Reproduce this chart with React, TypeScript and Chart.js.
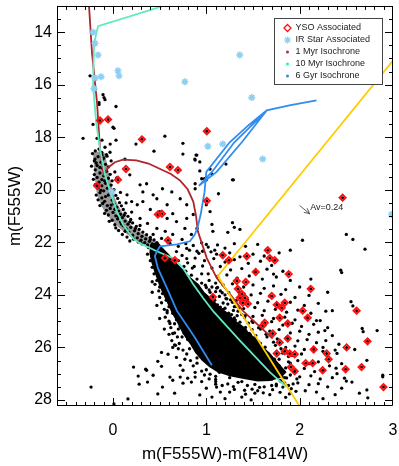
import React, { useEffect, useRef } from "react";
import { Chart, registerables } from "chart.js";
Chart.register(...registerables);

type P = [number, number];

const xTickValues = [0, 1, 2, 3];
const yTickValues = [14, 16, 18, 20, 22, 24, 26, 28];
const xMin = -0.6;
const xMax = 3.0;
const yMin = 13.0;
const yMax = 28.23;

const xTitle = "m(F555W)-m(F814W)";
const yTitle = "m(F555W)";

const isochrone1Myr: P[] = [
  [-0.265, 12.9], [-0.257, 13.0], [-0.225, 14.79], [-0.171, 16.68], [-0.139, 18.45],
  [-0.1, 19.4], [-0.05, 19.15], [0.02, 18.95], [0.107, 18.85], [0.25, 18.88],
  [0.38, 19.0], [0.5, 19.2], [0.62, 19.4], [0.72, 19.65], [0.8, 19.98],
  [0.86, 20.45], [0.89, 21.0], [0.909, 21.58], [1.005, 22.6], [1.112, 23.36],
  [1.251, 23.96], [1.39, 24.6], [1.551, 25.13], [1.711, 25.66],
];

const isochrone10Myr: P[] = [
  [0.6, 12.9], [0.524, 13.02], [-0.16, 13.77], [-0.203, 14.42], [-0.214, 16.04],
  [-0.18, 17.43], [-0.139, 18.45], [-0.086, 19.43], [-0.03, 20.08], [0.043, 20.83],
  [0.107, 21.32], [0.214, 21.85], [0.289, 22.04], [0.47, 22.34], [0.64, 22.6],
  [0.75, 22.98], [0.856, 23.58], [0.963, 24.11], [1.08, 24.65], [1.36, 25.74],
  [1.68, 26.94], [1.86, 27.51],
];

const isochrone6Gyr: P[] = [
  [1.059, 26.68], [0.877, 25.62], [0.684, 24.6], [0.578, 23.74], [0.481, 22.98],
  [0.449, 22.53], [0.471, 22.34], [0.503, 22.15], [0.684, 22.08], [0.824, 21.96],
  [0.877, 21.7], [0.909, 21.4], [0.941, 20.91], [0.963, 20.45], [0.98, 20.1],
  [1.0, 19.32], [1.25, 18.19], [1.45, 17.55], [1.647, 16.98], [1.89, 16.79],
  [2.18, 16.6], [1.89, 16.79], [1.647, 16.98], [1.5, 17.5], [1.3, 18.19],
  [1.06, 19.32], [0.92, 19.85], [1.11, 19.32], [1.38, 18.19], [1.647, 16.98],
];

const completenessLine: P[] = [[3.0, 15.08], [1.123, 23.28], [2.01, 28.3]];

// solid (saturated) main-sequence core
const coreOutline: P[] = [
  [0.396, 22.08], [0.39, 22.4], [0.405, 22.7], [0.44, 23.1], [0.47, 23.4], [0.5, 23.7],
  [0.54, 24.0], [0.585, 24.35], [0.63, 24.7], [0.68, 25.0], [0.72, 25.3], [0.77, 25.6],
  [0.83, 25.9], [0.88, 26.2], [0.95, 26.5], [1.03, 26.75], [1.12, 26.95], [1.25, 27.1],
  [1.4, 27.2], [1.55, 27.3], [1.68, 27.28], [1.8, 27.15], [1.86, 26.95], [1.8, 26.7],
  [1.74, 26.45], [1.68, 26.2], [1.6, 25.95], [1.55, 25.7], [1.46, 25.45], [1.4, 25.2],
  [1.3, 24.95], [1.24, 24.7], [1.14, 24.45], [1.08, 24.2], [0.98, 23.9], [0.92, 23.6],
  [0.82, 23.3], [0.74, 23.0], [0.66, 22.7], [0.6, 22.45], [0.53, 22.2], [0.48, 21.98],
  [0.396, 22.08],
];

// crowded pre-main-sequence ridge
const ridgeOutline: P[] = [
  [-0.214, 18.57], [-0.2, 19.32], [-0.17, 20.19], [-0.107, 20.72], [-0.032, 21.09],
  [0.075, 21.47], [0.214, 21.85], [0.321, 22.08], [0.45, 22.15], [0.47, 22.02],
  [0.364, 21.75], [0.214, 21.4], [0.107, 20.9], [0.02, 20.3], [-0.03, 19.6],
  [-0.07, 18.9], [-0.1, 18.57], [-0.214, 18.57],
];

const starsUpper: P[] = [
  [-0.246, 15.66], [-0.193, 15.81], [-0.107, 16.38], [-0.096, 16.49], [-0.086, 16.57],
  [-0.15, 16.68], [-0.15, 16.75], [0.032, 16.83], [-0.214, 17.51], [0.0, 17.62],
  [0.011, 17.66], [-0.321, 18.04], [-0.171, 18.04], [-0.118, 18.11], [0.032, 18.11],
  [0.246, 18.26], [0.556, 17.96], [0.749, 18.23], [0.439, 18.53], [0.749, 18.64],
  [0.877, 18.83], [0.898, 18.68], [-0.15, 18.45], [-0.086, 18.38], [-0.118, 18.68],
  [-0.064, 18.72], [-0.193, 18.83], [-0.107, 18.83], [0.128, 18.83], [-0.032, 18.57],
  [-0.03, 18.26], [0.89, 18.68], [0.88, 18.87], [0.93, 18.94], [0.93, 19.28],
  [1.04, 19.21], [1.06, 19.4], [0.98, 19.58], [1.0, 19.62], [0.88, 19.77],
  [0.95, 19.58], [0.88, 19.96], [1.21, 19.02], [1.29, 19.62],
];

const starsRidge: P[] = [
  [-0.19, 18.52], [-0.12, 18.58], [-0.07, 18.66], [-0.16, 18.74], [-0.1, 18.79],
  [-0.2, 18.9], [-0.13, 18.95], [-0.08, 19.03], [-0.17, 19.08], [-0.05, 19.13],
  [-0.11, 19.19], [-0.19, 19.24], [-0.07, 19.29], [-0.14, 19.36], [-0.03, 19.41],
  [-0.1, 19.47], [-0.17, 19.53], [-0.05, 19.56], [-0.12, 19.61], [-0.01, 19.66],
  [-0.15, 19.71], [-0.08, 19.75], [-0.02, 19.82], [-0.12, 19.85], [-0.16, 19.93],
  [-0.06, 19.94], [0.01, 19.99], [-0.1, 20.04], [-0.14, 20.11], [-0.03, 20.13],
  [0.03, 20.21], [-0.08, 20.26], [-0.12, 20.31], [0.05, 20.33], [-0.01, 20.39],
  [-0.09, 20.44], [0.07, 20.49], [0.01, 20.53], [-0.06, 20.6], [0.09, 20.61],
  [0.04, 20.66], [-0.03, 20.71], [0.11, 20.75], [0.06, 20.81], [0.0, 20.86],
  [0.13, 20.89], [0.08, 20.93], [0.03, 20.99], [0.16, 21.01], [0.1, 21.06],
  [0.05, 21.11], [0.19, 21.13], [0.13, 21.19], [0.08, 21.23], [0.21, 21.26],
  [0.16, 21.31], [0.11, 21.37], [0.25, 21.39], [0.19, 21.43], [0.14, 21.49],
  [0.28, 21.51], [0.23, 21.56], [0.17, 21.61], [0.32, 21.61], [0.27, 21.67],
  [0.21, 21.73], [0.36, 21.71], [0.31, 21.77], [0.26, 21.83], [0.4, 21.81],
  [0.35, 21.87], [0.3, 21.92], [0.44, 21.91], [0.39, 21.96], [0.34, 22.01],
  [0.47, 22.01], [0.42, 22.06], [-0.22, 18.62], [-0.23, 19.1], [-0.21, 19.6],
  [-0.18, 20.2], [-0.14, 20.6], [-0.09, 20.9], [-0.04, 21.2], [0.03, 21.45],
  [0.1, 21.7], [0.18, 21.95], [-0.02, 18.9], [0.04, 19.55], [0.08, 20.1],
  [0.14, 20.5], [0.2, 20.85], [-0.18, 18.98], [-0.14, 19.15], [-0.2, 19.42],
  [-0.09, 19.66], [-0.19, 19.8], [-0.13, 20.02], [-0.05, 20.2], [-0.16, 20.38],
  [-0.11, 20.52], [-0.02, 20.58], [-0.07, 20.78], [0.02, 20.74], [-0.05, 20.96],
  [0.06, 21.02], [-0.01, 21.16], [0.09, 21.3], [0.02, 21.33], [0.13, 21.58],
  [0.06, 21.55], [0.15, 21.8], [0.22, 21.88], [0.27, 21.99], [0.37, 22.1],
  [0.31, 22.06], [0.24, 21.47], [0.29, 21.36], [0.18, 21.22], [0.12, 20.97],
];

const starsMid: P[] = [
  [0.02, 19.32], [0.18, 19.43], [0.29, 19.81], [0.36, 19.77], [0.43, 20.19],
  [0.53, 19.96], [0.63, 20.08], [0.72, 20.34], [0.79, 20.57], [0.86, 20.94],
  [0.26, 20.57], [0.32, 20.45], [0.4, 20.75], [0.5, 20.83], [0.58, 21.09],
  [0.68, 21.21], [0.77, 21.47], [0.84, 21.7], [0.29, 21.09], [0.37, 21.28],
  [0.47, 21.47], [0.56, 21.58], [0.64, 21.7], [0.74, 21.89], [0.43, 21.7],
  [0.52, 21.85], [0.61, 22.04], [0.7, 22.15], [0.79, 22.23], [0.9, 22.34],
  [0.32, 20.08], [0.47, 20.34], [0.58, 20.57], [0.15, 20.19], [0.2, 20.45],
  [0.79, 21.09], [0.9, 21.47], [0.64, 20.91], [0.4, 21.89], [1.13, 20.15],
  [1.28, 19.62], [1.3, 21.43], [1.28, 21.25], [1.36, 21.51], [1.23, 21.62],
  [1.0, 20.57], [1.04, 20.83], [1.06, 21.32], [1.07, 21.58], [1.09, 22.3],
  [1.11, 22.45], [1.0, 22.08], [0.96, 22.34],
];

const starsNearCore: P[] = [
  [0.68, 22.35], [0.74, 22.5], [0.7, 22.7], [0.8, 22.78], [0.76, 22.92], [0.85, 22.98],
  [0.78, 23.1], [0.84, 23.25], [0.9, 23.4], [0.82, 23.45], [0.95, 23.55], [0.88, 23.65],
  [1.0, 23.72], [0.93, 23.82], [1.04, 23.9], [0.98, 24.0], [1.0, 24.15], [1.06, 24.25],
  [0.98, 24.3], [1.12, 24.38], [1.05, 24.48], [1.18, 24.55], [1.1, 24.62], [1.24, 24.7],
  [1.16, 24.8], [1.3, 24.88], [1.2, 24.95], [1.22, 25.05], [1.28, 25.15], [1.35, 25.22],
  [1.26, 25.3], [1.42, 25.35], [1.33, 25.45], [1.47, 25.5], [1.4, 25.6], [1.52, 25.68],
  [1.44, 25.75], [1.58, 25.85], [1.5, 25.95], [1.55, 26.1], [1.62, 26.2], [1.58, 26.35],
  [1.68, 26.42], [1.64, 26.58], [1.74, 26.65], [1.7, 26.78], [1.8, 26.9], [1.76, 27.05],
  [1.84, 27.15], [1.8, 27.3], [1.7, 27.45], [1.88, 27.45],
];

const starsBand: P[] = [
  [0.99, 23.63], [1.06, 23.7], [1.11, 23.74], [1.03, 23.81], [1.1, 23.88], [1.17, 23.92],
  [1.07, 24.03], [1.14, 24.06], [1.21, 24.14], [1.26, 24.19], [1.09, 24.2], [1.18, 24.31],
  [1.23, 24.35], [1.32, 24.44], [1.15, 24.47], [1.2, 24.51], [1.29, 24.59], [1.34, 24.62],
  [1.18, 24.69], [1.27, 24.75], [1.33, 24.79], [1.41, 24.87], [1.24, 24.91], [1.31, 24.96],
  [1.36, 25.04], [1.45, 25.08], [1.28, 25.13], [1.33, 25.2], [1.42, 25.24], [1.49, 25.32],
  [1.3, 25.37], [1.39, 25.43], [1.46, 25.47], [1.53, 25.55], [1.37, 25.6], [1.42, 25.67],
  [1.51, 25.71], [1.56, 25.79], [1.4, 25.83], [1.49, 25.87], [1.54, 25.95], [1.63, 25.99],
  [1.47, 26.05], [1.52, 26.11], [1.61, 26.16], [1.66, 26.24], [1.5, 26.28], [1.59, 26.32],
  [1.64, 26.4], [1.73, 26.45], [1.57, 26.51], [1.62, 26.57], [1.71, 26.61], [1.78, 26.7],
  [1.6, 26.73], [1.69, 26.79], [1.74, 26.87], [1.83, 26.92], [1.65, 26.97], [1.72, 27.02],
  [1.81, 27.11], [1.86, 27.16], [1.7, 27.21], [1.79, 27.26], [1.84, 27.35], [1.93, 27.39],
  [1.75, 27.46], [1.82, 27.51], [1.91, 27.57], [1.96, 27.67], [1.79, 27.71], [1.89, 27.77],
  [1.71, 27.61], [1.61, 27.73], [1.49, 27.59], [1.41, 27.63], [1.29, 27.49], [1.23, 27.39],
  [1.34, 27.33], [1.52, 27.41], [1.57, 27.52], [1.44, 27.45], [1.1, 27.22], [1.04, 27.02],
  [1.9, 26.6], [1.94, 26.95], [1.97, 27.2], [1.88, 26.35], [1.8, 26.05], [1.72, 25.8],
  [1.64, 25.5], [1.56, 25.25], [1.49, 25.0], [1.42, 24.78], [1.35, 24.5], [1.28, 24.28],
  [1.2, 24.0], [1.12, 23.72], [1.03, 23.45], [0.95, 23.2], [0.87, 22.92], [0.79, 22.62],
];

const starsRightDense: P[] = [
  [0.78, 22.05], [0.86, 22.12], [0.95, 22.02], [1.02, 22.18], [1.12, 22.1], [1.2, 22.22],
  [1.3, 22.05], [1.42, 22.15], [1.55, 22.08], [0.82, 22.3], [0.92, 22.42], [1.05, 22.36],
  [1.16, 22.48], [1.25, 22.4], [1.36, 22.55], [1.5, 22.45], [1.62, 22.52], [1.78, 22.4],
  [0.88, 22.6], [0.98, 22.7], [1.08, 22.62], [1.2, 22.75], [1.3, 22.66], [1.45, 22.8],
  [1.58, 22.72], [1.7, 22.88], [0.96, 22.9], [1.06, 22.98], [1.15, 22.92], [1.26, 23.05],
  [1.38, 23.0], [1.52, 23.12], [1.65, 23.02], [1.82, 23.1], [1.02, 23.2], [1.12, 23.3],
  [1.22, 23.24], [1.33, 23.36], [1.46, 23.28], [1.6, 23.4], [1.75, 23.32], [1.9, 23.45],
  [1.1, 23.55], [1.18, 23.62], [1.28, 23.58], [1.4, 23.7], [1.5, 23.62], [1.62, 23.75],
  [1.72, 23.66], [1.85, 23.8], [2.0, 23.7], [1.15, 23.85], [1.24, 23.92], [1.35, 23.88],
  [1.48, 24.0], [1.58, 23.94], [1.68, 24.05], [1.8, 23.98], [1.95, 24.1], [2.1, 24.02],
  [1.22, 24.15], [1.32, 24.22], [1.44, 24.18], [1.55, 24.3], [1.66, 24.24], [1.76, 24.35],
  [1.9, 24.28], [2.05, 24.4], [2.2, 24.32], [1.3, 24.45], [1.4, 24.52], [1.52, 24.48],
  [1.62, 24.6], [1.74, 24.55], [1.86, 24.66], [1.98, 24.58], [2.12, 24.7], [2.28, 24.62],
  [1.38, 24.75], [1.5, 24.82], [1.6, 24.78], [1.72, 24.9], [1.84, 24.85], [1.95, 24.95],
  [2.08, 24.88], [2.22, 24.98], [1.5, 25.05], [1.62, 25.12], [1.7, 25.02], [1.82, 25.15],
  [1.92, 25.08], [2.02, 25.2], [2.15, 25.12], [2.3, 25.25], [1.58, 25.3], [1.68, 25.38],
  [1.78, 25.32], [1.9, 25.45], [2.0, 25.38], [2.1, 25.5], [2.2, 25.42], [2.35, 25.55],
  [1.65, 25.6], [1.76, 25.68], [1.86, 25.62], [1.98, 25.75], [2.08, 25.7], [2.18, 25.82],
  [2.28, 25.74], [2.42, 25.88], [1.74, 25.92], [1.85, 26.0], [1.95, 25.95], [2.05, 26.08],
  [2.15, 26.02], [2.25, 26.15], [2.38, 26.1], [1.82, 26.22], [1.92, 26.3], [2.02, 26.25],
  [1.78, 26.45], [1.88, 26.55], [1.98, 26.5], [2.1, 26.62], [2.2, 26.55], [2.32, 26.7],
  [2.45, 26.62], [1.85, 26.78], [1.95, 26.85], [2.05, 26.8], [2.16, 26.92], [2.26, 26.88],
  [2.4, 27.0], [1.9, 27.05], [2.0, 27.12], [2.12, 27.08], [2.22, 27.2], [2.35, 27.15],
  [2.5, 27.28], [1.98, 27.35], [2.1, 27.42], [2.2, 27.38], [2.3, 27.5], [2.45, 27.55],
  [2.06, 27.65], [2.18, 27.7], [2.38, 27.8], [1.85, 27.9], [2.25, 27.95], [1.0, 27.55],
  [1.15, 27.7], [1.3, 27.6], [1.42, 27.78], [1.55, 27.65], [1.68, 27.8], [1.2, 27.95],
  [1.48, 28.0], [1.62, 27.5], [1.75, 27.4], [0.95, 27.3], [1.1, 27.4],
];

const starsRightSparse: P[] = [
  [2.03, 21.92], [1.9, 22.3], [2.5, 21.7], [2.57, 21.89], [2.7, 22.26], [2.44, 23.06],
  [2.45, 23.15], [1.72, 23.21], [2.55, 24.26], [2.57, 24.42], [2.67, 25.28], [2.68, 25.4],
  [2.83, 25.36], [2.59, 26.08], [2.72, 26.49], [2.89, 27.06], [2.89, 27.12], [2.4, 26.23],
  [2.39, 26.79], [2.48, 27.17], [2.56, 27.32], [2.64, 27.74], [2.72, 27.62], [2.73, 27.92],
  [2.27, 25.36], [2.18, 24.98], [2.25, 26.0], [2.12, 23.4], [2.3, 23.9], [2.35, 24.6],
];

const starsLowerLeft: P[] = [
  [-0.235, 27.51], [0.01, 28.15], [0.16, 27.96], [0.22, 26.75], [0.27, 27.09], [0.28, 27.4],
  [0.35, 26.83], [0.37, 27.32], [0.43, 27.06], [0.48, 26.53], [0.52, 26.19], [0.53, 27.51],
  [0.48, 27.77], [0.52, 26.72], [0.59, 26.26], [0.61, 27.13], [0.66, 27.74], [0.67, 25.92],
  [0.72, 27.13], [0.58, 24.68], [0.61, 25.09], [0.64, 25.47], [0.36, 26.87], [0.64, 27.25],
  [0.75, 27.36], [0.84, 27.32], [0.93, 27.81], [1.06, 27.89], [1.25, 27.7], [1.38, 27.89],
  [1.52, 27.74], [1.11, 27.51], [0.68, 26.38], [0.72, 26.68], [0.75, 26.87], [0.8, 27.17],
  [0.88, 27.13], [0.63, 25.74], [0.64, 26.0], [0.55, 25.3], [0.5, 24.9], [0.47, 24.4],
  [0.42, 23.9], [0.7, 26.05],
];

const starsCoreEdge: P[] = [
  [0.38, 22.2], [0.37, 22.45], [0.4, 22.7], [0.42, 22.95], [0.44, 23.2], [0.47, 23.45],
  [0.5, 23.7], [0.53, 23.95], [0.57, 24.2], [0.6, 24.45], [0.64, 24.7], [0.68, 24.95],
  [0.72, 25.2], [0.76, 25.45], [0.8, 25.7], [0.86, 25.95], [0.92, 26.2], [0.98, 26.45],
  [1.05, 26.7], [1.14, 26.95], [1.25, 27.15], [1.38, 27.3], [0.42, 23.5], [0.5, 24.1],
  [0.58, 24.6], [0.66, 25.1], [0.74, 25.6], [0.82, 26.05], [0.9, 26.4], [1.0, 26.85],
  [1.1, 27.1], [0.45, 23.6], [0.49, 23.85], [0.52, 24.3], [0.55, 24.55], [0.56, 24.85],
  [0.6, 25.0], [0.62, 25.25], [0.66, 25.45], [0.69, 25.6], [0.71, 25.85], [0.75, 26.1],
  [0.79, 26.25], [0.83, 26.5], [0.86, 26.7], [0.9, 26.6], [0.95, 26.9], [0.98, 27.05],
  [1.03, 27.2], [1.1, 27.3], [1.17, 27.45], [0.6, 25.5], [0.66, 25.9], [0.77, 26.45],
  [0.88, 26.95], [0.7, 25.3],
];

const ysoStars: P[] = [
  [-0.139, 17.36], [-0.053, 17.32], [0.31, 18.08], [1.005, 17.77], [-0.171, 19.85],
  [0.139, 19.21], [0.053, 19.62], [0.481, 20.94], [0.524, 20.91], [0.588, 21.92],
  [0.556, 22.6], [0.663, 22.68], [0.61, 19.13], [0.695, 19.25], [1.005, 20.42],
  [2.46, 20.3], [1.658, 22.3], [1.679, 22.6], [1.733, 22.68], [1.433, 22.53],
  [1.176, 22.49], [1.241, 22.68], [1.529, 23.13], [1.882, 23.21], [1.422, 23.51],
  [1.326, 23.47], [1.07, 24.08], [1.337, 23.77], [1.38, 23.96], [1.358, 24.11],
  [1.412, 24.11], [1.39, 24.3], [1.444, 24.34], [1.701, 24.04], [1.754, 24.38],
  [1.807, 24.49], [2.118, 23.77], [2.61, 24.6], [2.032, 24.6], [2.086, 24.87],
  [1.84, 24.3], [1.786, 24.87], [1.872, 25.09], [1.626, 25.06], [1.711, 25.47],
  [1.872, 25.66], [1.786, 25.81], [1.84, 26.15], [1.754, 26.23], [1.893, 26.23],
  [1.947, 26.26], [2.15, 26.08], [2.064, 26.6], [2.139, 26.6], [1.904, 26.75],
  [1.947, 26.91], [2.246, 26.87], [2.289, 26.23], [2.31, 26.45], [2.503, 26.0],
  [2.727, 25.77], [2.492, 26.83], [2.663, 26.75], [2.898, 27.51], [1.604, 25.17],
];

const irStars: P[] = [
  [-0.214, 14.0], [-0.193, 14.42], [-0.16, 14.87], [-0.193, 15.74], [-0.128, 15.7],
  [0.053, 15.47], [0.064, 15.66], [-0.203, 16.15], [0.77, 15.89], [1.358, 14.87],
  [1.487, 16.49], [1.016, 18.34], [1.176, 18.26], [1.604, 18.83], [2.984, 20.94],
  [-0.011, 20.08],
];

const reddeningTail: P = [2.0, 20.6];
const reddeningHead: P = [2.107, 20.91];
const reddeningLabel = "Av=0.24";

const legendLabels = ["YSO Associated", "IR Star Associated", "1 Myr Isochrone", "10 Myr Isochrone", "6 Gyr Isochrone"];

const COL_RED_ISO = "#b0252b";
const COL_GREEN_ISO = "#5eeac2";
const COL_BLUE_ISO = "#2f8cf0";
const COL_YELLOW = "#ffcc00";
const COL_YSO = "#ff1010";
const COL_IR = "#8ecff2";
const FONT = "'Liberation Sans', Arial, Helvetica, sans-serif";

const toXY = (arr: P[]) => arr.map(([x, y]) => ({ x, y }));

const decorPlugin = {
  id: "decor",
  afterDatasetsDraw(chart: any) {
    const { ctx, chartArea: a, scales } = chart;
    const xs = scales.x;
    const ys = scales.y;
    ctx.save();
    ctx.strokeStyle = "#000";
    ctx.lineWidth = 1;
    ctx.beginPath();
    ctx.rect(Math.round(a.left) + 0.5, Math.round(a.top) + 0.5, Math.round(a.right - a.left) - 1, Math.round(a.bottom - a.top) - 1);
    ctx.stroke();
    ctx.beginPath();
    for (let i = -6; i <= 30; i++) {
      const v = i / 10;
      const px = Math.round(xs.getPixelForValue(v)) + 0.5;
      if (px < a.left || px > a.right) continue;
      const len = i % 10 === 0 ? 8 : 4;
      ctx.moveTo(px, a.bottom);
      ctx.lineTo(px, a.bottom - len);
      ctx.moveTo(px, a.top);
      ctx.lineTo(px, a.top + len);
    }
    for (let i = 26; i <= 56; i++) {
      const v = i / 2;
      const py = Math.round(ys.getPixelForValue(v)) + 0.5;
      if (py < a.top || py > a.bottom) continue;
      const len = v % 2 === 0 ? 8 : 4;
      ctx.moveTo(a.left, py);
      ctx.lineTo(a.left + len, py);
      ctx.moveTo(a.right, py);
      ctx.lineTo(a.right - len, py);
    }
    ctx.stroke();

    const tx = xs.getPixelForValue(reddeningTail[0]);
    const ty = ys.getPixelForValue(reddeningTail[1]);
    const hx = xs.getPixelForValue(reddeningHead[0]);
    const hy = ys.getPixelForValue(reddeningHead[1]);
    const ang = Math.atan2(hy - ty, hx - tx);
    ctx.strokeStyle = "#333";
    ctx.lineWidth = 0.8;
    ctx.beginPath();
    ctx.moveTo(tx, ty);
    ctx.lineTo(hx, hy);
    ctx.moveTo(hx, hy);
    ctx.lineTo(hx - 6 * Math.cos(ang - 0.45), hy - 6 * Math.sin(ang - 0.45));
    ctx.moveTo(hx, hy);
    ctx.lineTo(hx - 6 * Math.cos(ang + 0.45), hy - 6 * Math.sin(ang + 0.45));
    ctx.stroke();
    ctx.fillStyle = "#222";
    ctx.font = `9px ${FONT}`;
    ctx.textAlign = "left";
    ctx.textBaseline = "middle";
    ctx.fillText(reddeningLabel, hx + 0.5, hy - 6);

    const bx = Math.round(a.right) - 118.5;
    const by = Math.round(a.top) + 12.5;
    const bw = 108;
    const bh = 66;
    ctx.fillStyle = "#fff";
    ctx.fillRect(bx, by, bw, bh);
    ctx.strokeStyle = "#444";
    ctx.lineWidth = 1;
    ctx.strokeRect(bx, by, bw, bh);
    const mx = bx + 13;
    const textX = bx + 21;
    ctx.font = `9px ${FONT}`;
    ctx.textAlign = "left";
    ctx.textBaseline = "middle";
    legendLabels.forEach((label, i) => {
      const cy = by + 9.5 + i * 12;
      if (i === 0) {
        ctx.strokeStyle = COL_YSO;
        ctx.lineWidth = 1.3;
        ctx.beginPath();
        ctx.moveTo(mx, cy - 3.5);
        ctx.lineTo(mx + 3.5, cy);
        ctx.lineTo(mx, cy + 3.5);
        ctx.lineTo(mx - 3.5, cy);
        ctx.closePath();
        ctx.stroke();
      } else if (i === 1) {
        ctx.strokeStyle = COL_IR;
        ctx.lineWidth = 1.2;
        ctx.beginPath();
        ctx.moveTo(mx - 3.5, cy); ctx.lineTo(mx + 3.5, cy);
        ctx.moveTo(mx, cy - 3.5); ctx.lineTo(mx, cy + 3.5);
        ctx.moveTo(mx - 2.5, cy - 2.5); ctx.lineTo(mx + 2.5, cy + 2.5);
        ctx.moveTo(mx - 2.5, cy + 2.5); ctx.lineTo(mx + 2.5, cy - 2.5);
        ctx.stroke();
      } else {
        ctx.fillStyle = i === 2 ? "#c0282a" : i === 3 ? "#3ee6a6" : "#3a86f0";
        ctx.beginPath();
        ctx.arc(mx, cy, 1.5, 0, Math.PI * 2);
        ctx.fill();
      }
      ctx.fillStyle = "#222";
      ctx.fillText(label, textX, cy);
    });
    ctx.restore();
  },
};

export default function App() {
  const canvasRef = useRef<HTMLCanvasElement | null>(null);

  useEffect(() => {
    const canvas = canvasRef.current;
    if (!canvas) return;
    Chart.defaults.font.family = FONT;
    Chart.defaults.color = "#000";

    const allStars = [
      ...starsUpper, ...starsRidge, ...starsMid, ...starsNearCore, ...starsBand,
      ...starsRightDense, ...starsRightSparse, ...starsLowerLeft, ...starsCoreEdge,
    ];

    const lineDs = (label: string, data: P[], color: string, order: number) => ({
      label,
      data: toXY(data),
      showLine: true,
      borderColor: color,
      backgroundColor: color,
      borderWidth: 1.8,
      pointRadius: 0,
      fill: false,
      tension: 0,
      clip: 0,
      order,
    });

    const zoneDs = (label: string, data: P[], color: string, order: number) => ({
      label,
      data: toXY(data),
      showLine: true,
      borderWidth: 0,
      borderColor: "rgba(0,0,0,0)",
      backgroundColor: color,
      pointRadius: 0,
      fill: "shape",
      tension: 0.3,
      clip: 0,
      order,
    });

    const chart = new Chart(canvas, {
      type: "scatter",
      data: {
        datasets: [
          {
            label: "IR Star Associated",
            data: toXY(irStars),
            pointStyle: "star",
            pointRadius: 3.5,
            borderColor: COL_IR,
            backgroundColor: COL_IR,
            borderWidth: 1.6,
            clip: 0,
            order: 0,
          } as any,
          {
            label: "YSO Associated",
            data: toXY(ysoStars),
            pointStyle: "rectRot",
            pointRadius: 3.1,
            borderColor: COL_YSO,
            backgroundColor: "rgba(0,0,0,0)",
            borderWidth: 1.9,
            clip: 0,
            order: 1,
          },
          {
            label: "YSO dots",
            data: toXY(ysoStars),
            pointRadius: 1.5,
            borderWidth: 0,
            backgroundColor: "#000",
            clip: 0,
            order: 2,
          },
          lineDs("completeness", completenessLine, COL_YELLOW, 3),
          lineDs("6 Gyr Isochrone", isochrone6Gyr, COL_BLUE_ISO, 4),
          lineDs("10 Myr Isochrone", isochrone10Myr, COL_GREEN_ISO, 5),
          lineDs("1 Myr Isochrone", isochrone1Myr, COL_RED_ISO, 6),
          {
            label: "stars",
            data: toXY(allStars),
            pointRadius: 1.65,
            borderWidth: 0,
            backgroundColor: "#000",
            clip: 0,
            order: 7,
          },
          { ...zoneDs("core", coreOutline, "#000", 8), tension: 0 } as any,
          zoneDs("ridge", ridgeOutline, "rgba(0,0,0,0.4)", 9) as any,
        ],
      },
      options: {
        responsive: false,
        animation: false,
        events: [],
        layout: { padding: { left: 0, right: 6, top: 3, bottom: 0 } },
        plugins: {
          legend: { display: false },
          tooltip: { enabled: false },
          title: { display: false },
        },
        scales: {
          x: {
            type: "linear",
            min: xMin,
            max: xMax,
            grid: { display: false, drawTicks: false },
            border: { display: false },
            ticks: { font: { size: 16, family: FONT }, padding: 15, color: "#000" },
            title: {
              display: true,
              text: xTitle,
              font: { size: 17, family: FONT },
              color: "#000",
              padding: { top: 0, bottom: 1 },
            },
            afterBuildTicks: (s: any) => {
              s.ticks = xTickValues.map((v) => ({ value: v }));
            },
            afterFit: (s: any) => {
              s.height = 60;
              s.paddingLeft = 0;
              s.paddingRight = 0;
            },
          },
          y: {
            type: "linear",
            reverse: true,
            min: yMin,
            max: yMax,
            grid: { display: false, drawTicks: false },
            border: { display: false },
            ticks: { font: { size: 16, family: FONT }, padding: 5, color: "#000" },
            title: {
              display: true,
              text: yTitle,
              font: { size: 17, family: FONT },
              color: "#000",
              padding: { top: 5, bottom: 0 },
            },
            afterBuildTicks: (s: any) => {
              s.ticks = yTickValues.map((v) => ({ value: v }));
            },
            afterFit: (s: any) => {
              s.width = 57;
              s.paddingTop = 0;
              s.paddingBottom = 0;
            },
          },
        },
      } as any,
      plugins: [decorPlugin],
    });
    return () => chart.destroy();
  }, []);

  return (
    <div style={{ position: "absolute", left: 0, top: 0, width: 399, height: 466, background: "#fff" }}>
      <canvas ref={canvasRef} width={399} height={466} style={{ display: "block" }} />
    </div>
  );
}
